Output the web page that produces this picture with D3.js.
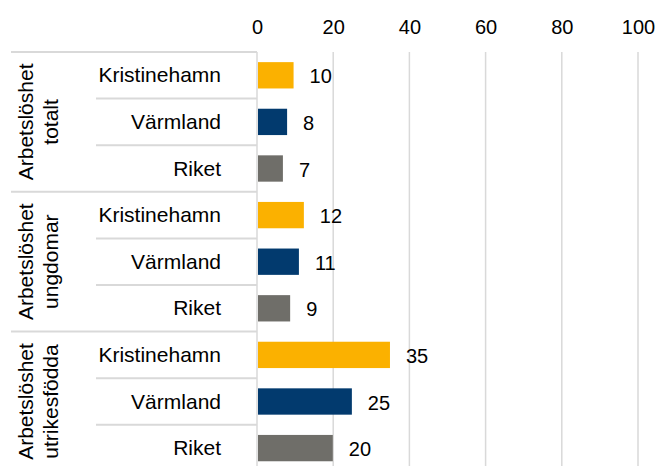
<!DOCTYPE html>
<html>
<head>
<meta charset="utf-8">
<script src="https://cdn.jsdelivr.net/npm/d3@7"></script>
<style>
    body { margin: 0; background: #fff; }
    text { font-family: "Liberation Sans", Arial, sans-serif; fill: #000; }
</style>
</head>
<body>
<script>
//chart data
var groupLabels = [["Arbetslöshet", "totalt"], ["Arbetslöshet", "ungdomar"], ["Arbetslöshet", "utrikesfödda"]];
var areas = ["Kristinehamn", "Värmland", "Riket"];
var totalt = [9.6, 7.9, 6.8];
var ungdomar = [12.3, 11.0, 8.7];
var utrikesfodda = [34.9, 24.9, 19.9];
var xTicks = [0, 20, 40, 60, 80, 100];
var colors = ["#fbb100", "#023a6e", "#6f6e69"];

(function(){
    var width = 657, height = 466;
    var left = 257, top = 52, plotW = 381, rowH = 46.6;

    var svg = d3.select("body").append("svg")
        .attr("width", width)
        .attr("height", height);

    //flatten into rows
    var seriesList = [totalt, ungdomar, utrikesfodda];
    var rows = [];
    seriesList.forEach(function(vals, g){
        areas.forEach(function(a, i){
            rows.push({group: g, area: a, idx: i, value: vals[i], key: g + "|" + a});
        });
    });

    var x = d3.scaleLinear().domain([0, 100]).range([left, left + plotW]);
    var y = d3.scaleBand()
        .domain(rows.map(function(d){ return d.key; }))
        .range([top, top + rowH * rows.length])
        .paddingInner(0.435)
        .paddingOuter(0.2175);
    var step = y.step();

    //gridlines
    svg.selectAll(".grid")
        .data(xTicks)
        .enter()
        .append("line")
        .attr("x1", function(d){ return x(d); })
        .attr("x2", function(d){ return x(d); })
        .attr("y1", top)
        .attr("y2", height + 10)
        .attr("stroke", "#d9d9d9")
        .attr("stroke-width", 1.5);

    //tick labels on top
    var axis = svg.append("g")
        .attr("transform", "translate(0," + top + ")")
        .call(d3.axisTop(x).tickValues(xTicks).tickSize(0).tickPadding(18));
    axis.select(".domain").remove();
    axis.selectAll("text")
        .style("font-family", "'Liberation Sans', Arial, sans-serif")
        .style("font-size", "20px")
        .attr("fill", "#000");

    //row separators in category area
    var seps = d3.range(rows.length + 1);
    svg.selectAll(".sep")
        .data(seps)
        .enter()
        .append("line")
        .attr("x1", function(d){ return d % 3 == 0 ? 11 : 96; })
        .attr("x2", left)
        .attr("y1", function(d){ return top + d * step; })
        .attr("y2", function(d){ return top + d * step; })
        .attr("stroke", "#d9d9d9")
        .attr("stroke-width", 2);

    //bars
    svg.selectAll(".bar")
        .data(rows)
        .enter()
        .append("rect")
        .attr("x", x(0) + 1)
        .attr("y", function(d){ return y(d.key); })
        .attr("width", function(d){ return x(d.value) - x(0) - 1; })
        .attr("height", y.bandwidth())
        .attr("fill", function(d){ return colors[d.idx]; });

    //value labels
    svg.selectAll(".val")
        .data(rows)
        .enter()
        .append("text")
        .attr("x", function(d){ return x(d.value) + 16; })
        .attr("y", function(d){ return y(d.key) + y.bandwidth() / 2 + 8; })
        .style("font-size", "20px")
        .text(function(d){ return d3.format(".0f")(d.value); });

    //area labels
    svg.selectAll(".area")
        .data(rows)
        .enter()
        .append("text")
        .attr("x", 221)
        .attr("y", function(d){ return y(d.key) + y.bandwidth() / 2 + 7; })
        .attr("text-anchor", "end")
        .style("font-size", "21px")
        .text(function(d){ return d.area; });

    //group labels (rotated)
    var gl = svg.selectAll(".grp")
        .data(groupLabels)
        .enter()
        .append("text")
        .attr("text-anchor", "middle")
        .style("font-size", "21px")
        .attr("transform", function(d, i){
            return "translate(0," + (top + (i * 3 + 1.5) * step) + ") rotate(-90)";
        });
    gl.append("tspan").attr("x", 0).attr("y", 33).text(function(d){ return d[0]; });
    gl.append("tspan").attr("x", 0).attr("y", 58).text(function(d){ return d[1]; });
})();
</script>
</body>
</html>
